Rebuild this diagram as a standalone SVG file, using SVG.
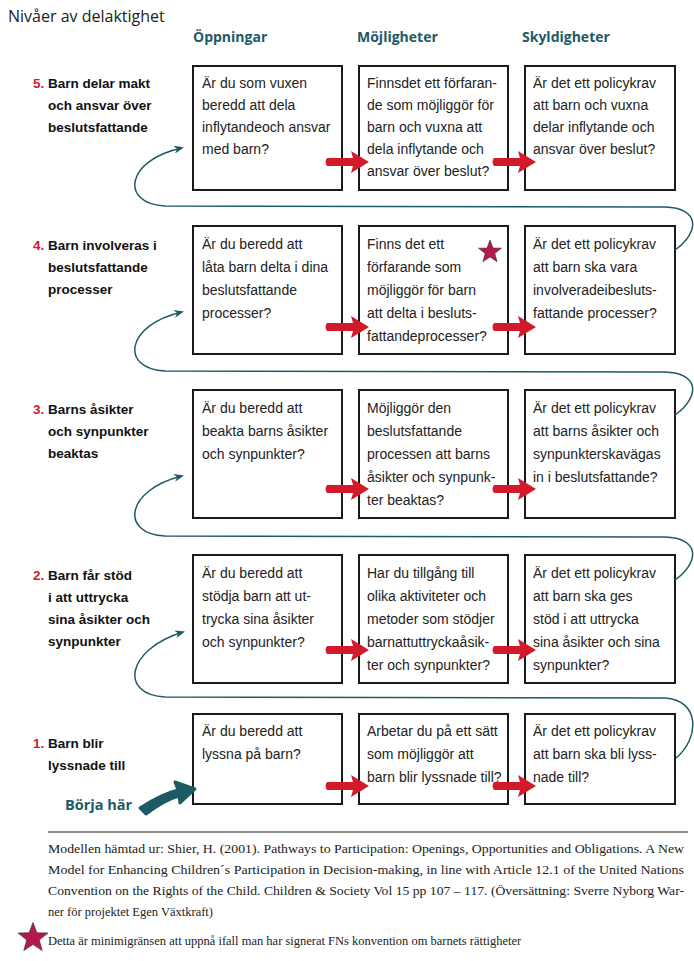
<svg xmlns="http://www.w3.org/2000/svg" width="694" height="961" viewBox="0 0 694 961">
<style>
.b{fill:#fff;stroke:#1a1a1a;stroke-width:2}
.t{font-family:"Liberation Sans Narrow","Liberation Sans",sans-serif;font-size:14px;fill:#222}
.h{font-family:"Open Sans","Liberation Sans",sans-serif;font-size:14px;font-weight:bold;fill:#1d5a66}
.l{font-family:"Liberation Sans",sans-serif;font-size:13.5px;font-weight:bold;fill:#111}
.n{fill:#d21a2a}
.f{font-family:"Liberation Serif",serif;font-size:12.5px;fill:#222}
.c{fill:none;stroke:#1d5a66;stroke-width:1.5}
.r{fill:#d21a2a}
</style>
<defs>
<marker id="ah" markerWidth="10" markerHeight="8" refX="8" refY="4" orient="auto" markerUnits="userSpaceOnUse"><path d="M0,0 L10,4 L0,8 L3,4 Z" fill="#1d5a66"/></marker>
<path id="ra" d="M2,-4 L28,-4 L26,-11 L44,0 L26,11 L28,4 L2,4 Q-1,0 2,-4 Z"/>
<path id="star" d="M0,-12 L3,-4 L11.5,-3.8 L4.8,1.5 L7.1,9.7 L0,5 L-7.1,9.7 L-4.8,1.5 L-11.5,-3.8 L-3,-4 Z"/>
</defs>
<text x="8" y="22" style="font-family:'Open Sans','Liberation Sans',sans-serif;font-size:16px;fill:#222">Nivåer av delaktighet</text>
<text x="193" y="42" class="h">Öppningar</text>
<text x="357" y="42" class="h">Möjligheter</text>
<text x="522" y="42" class="h">Skyldigheter</text>

<g id="labels">
<text class="l" x="33" y="88"><tspan class="n">5.</tspan> Barn delar makt</text>
<text class="l" x="48" y="110">och ansvar över</text>
<text class="l" x="48" y="132">beslutsfattande</text>
<text class="l" x="33" y="250"><tspan class="n">4.</tspan> Barn involveras i</text>
<text class="l" x="48" y="272">beslutsfattande</text>
<text class="l" x="48" y="294">processer</text>
<text class="l" x="33" y="414"><tspan class="n">3.</tspan> Barns åsikter</text>
<text class="l" x="48" y="436">och synpunkter</text>
<text class="l" x="48" y="458">beaktas</text>
<text class="l" x="33" y="580"><tspan class="n">2.</tspan> Barn får stöd</text>
<text class="l" x="48" y="602">i att uttrycka</text>
<text class="l" x="48" y="624">sina åsikter och</text>
<text class="l" x="48" y="646">synpunkter</text>
<text class="l" x="33" y="748"><tspan class="n">1.</tspan> Barn blir</text>
<text class="l" x="48" y="770">lyssnade till</text>
</g>

<g id="row5">
<rect class="b" x="193" y="66" width="149" height="124"/>
<text class="t" x="202" y="88"><tspan x="202">Är du som vuxen</tspan><tspan x="202" dy="22">beredd att dela</tspan><tspan x="202" dy="22">inflytandeoch ansvar</tspan><tspan x="202" dy="22">med barn?</tspan></text>
<rect class="b" x="359" y="66" width="149" height="124"/>
<text class="t" x="367" y="88"><tspan x="367">Finnsdet ett förfaran-</tspan><tspan x="367" dy="22">de som möjliggör för</tspan><tspan x="367" dy="22">barn och vuxna att</tspan><tspan x="367" dy="22">dela inflytande och</tspan><tspan x="367" dy="22">ansvar över beslut?</tspan></text>
<rect class="b" x="525" y="66" width="150" height="124"/>
<text class="t" x="533" y="88"><tspan x="533">Är det ett policykrav</tspan><tspan x="533" dy="22">att barn och vuxna</tspan><tspan x="533" dy="22">delar inflytande och</tspan><tspan x="533" dy="22">ansvar över beslut?</tspan></text>
</g>
<g id="row4">
<rect class="b" x="193" y="226" width="149" height="128"/>
<text class="t" x="202" y="249"><tspan x="202">Är du beredd att</tspan><tspan x="202" dy="23">låta barn delta i dina</tspan><tspan x="202" dy="23">beslutsfattande</tspan><tspan x="202" dy="23">processer?</tspan></text>
<rect class="b" x="359" y="226" width="149" height="128"/>
<text class="t" x="367" y="249"><tspan x="367">Finns det ett</tspan><tspan x="367" dy="23">förfarande som</tspan><tspan x="367" dy="23">möjliggör för barn</tspan><tspan x="367" dy="23">att delta i besluts-</tspan><tspan x="367" dy="23">fattandeprocesser?</tspan></text>
<rect class="b" x="525" y="226" width="150" height="128"/>
<text class="t" x="533" y="249"><tspan x="533">Är det ett policykrav</tspan><tspan x="533" dy="23">att barn ska vara</tspan><tspan x="533" dy="23">involveradeibesluts-</tspan><tspan x="533" dy="23">fattande processer?</tspan></text>
<use href="#star" x="490" y="252" fill="#b5184a" stroke="#333" stroke-width="0.6"/>
</g>
<g id="row3">
<rect class="b" x="193" y="390" width="149" height="128"/>
<text class="t" x="202" y="413"><tspan x="202">Är du beredd att</tspan><tspan x="202" dy="23">beakta barns åsikter</tspan><tspan x="202" dy="23">och synpunkter?</tspan></text>
<rect class="b" x="359" y="390" width="149" height="128"/>
<text class="t" x="367" y="413"><tspan x="367">Möjliggör den</tspan><tspan x="367" dy="23">beslutsfattande</tspan><tspan x="367" dy="23">processen att barns</tspan><tspan x="367" dy="23">åsikter och synpunk-</tspan><tspan x="367" dy="23">ter beaktas?</tspan></text>
<rect class="b" x="525" y="390" width="150" height="128"/>
<text class="t" x="533" y="413"><tspan x="533">Är det ett policykrav</tspan><tspan x="533" dy="23">att barns åsikter och</tspan><tspan x="533" dy="23">synpunkterskavägas</tspan><tspan x="533" dy="23">in i beslutsfattande?</tspan></text>
</g>
<g id="row2">
<rect class="b" x="193" y="555" width="149" height="128"/>
<text class="t" x="202" y="578"><tspan x="202">Är du beredd att</tspan><tspan x="202" dy="23">stödja barn att ut-</tspan><tspan x="202" dy="23">trycka sina åsikter</tspan><tspan x="202" dy="23">och synpunkter?</tspan></text>
<rect class="b" x="359" y="555" width="149" height="128"/>
<text class="t" x="367" y="578"><tspan x="367">Har du tillgång till</tspan><tspan x="367" dy="23">olika aktiviteter och</tspan><tspan x="367" dy="23">metoder som stödjer</tspan><tspan x="367" dy="23">barnattuttryckaåsik-</tspan><tspan x="367" dy="23">ter och synpunkter?</tspan></text>
<rect class="b" x="525" y="555" width="150" height="128"/>
<text class="t" x="533" y="578"><tspan x="533">Är det ett policykrav</tspan><tspan x="533" dy="23">att barn ska ges</tspan><tspan x="533" dy="23">stöd i att uttrycka</tspan><tspan x="533" dy="23">sina åsikter och sina</tspan><tspan x="533" dy="23">synpunkter?</tspan></text>
</g>
<g id="row1">
<rect class="b" x="193" y="714" width="149" height="90"/>
<text class="t" x="202" y="736"><tspan x="202">Är du beredd att</tspan><tspan x="202" dy="23">lyssna på barn?</tspan></text>
<rect class="b" x="359" y="714" width="149" height="90"/>
<text class="t" x="367" y="736"><tspan x="367">Arbetar du på ett sätt</tspan><tspan x="367" dy="23">som möjliggör att</tspan><tspan x="367" dy="23">barn blir lyssnade till?</tspan></text>
<rect class="b" x="525" y="714" width="150" height="90"/>
<text class="t" x="533" y="736"><tspan x="533">Är det ett policykrav</tspan><tspan x="533" dy="23">att barn ska bli lyss-</tspan><tspan x="533" dy="23">nade till?</tspan></text>
</g>

<g id="connectors">
<path class="c" marker-end="url(#ah)" d="M675,250 C700,232 700,208 665,207 L165,206 C120,204 125,160 182,148"/>
<path class="c" marker-end="url(#ah)" d="M675,415 C700,397 700,373 665,372 L165,371 C120,369 125,325 182,312"/>
<path class="c" marker-end="url(#ah)" d="M675,580 C700,562 700,538 665,537 L165,536 C120,534 125,490 182,476"/>
<path class="c" marker-end="url(#ah)" d="M676,758 C700,738 700,700 665,698 L165,697 C120,695 125,650 183,632"/>
<g class="r">
<use href="#ra" x="325" y="162"/><use href="#ra" x="492" y="162"/>
<use href="#ra" x="325" y="327"/><use href="#ra" x="492" y="327"/>
<use href="#ra" x="325" y="489"/><use href="#ra" x="492" y="489"/>
<use href="#ra" x="325" y="650"/><use href="#ra" x="492" y="650"/>
<use href="#ra" x="325" y="786"/><use href="#ra" x="492" y="786"/>
</g>
<path d="M140,808 C160,795 170,792 178,790 L175,782 L195,789 L180,803 L179,796 C168,799 158,805 146,814 Z" fill="#1d5a66" stroke="#1d5a66" stroke-width="3" stroke-linejoin="round"/>
</g>
<text x="65" y="810" class="h" style="font-size:14.5px">Börja här</text>

<line x1="48" y1="832" x2="688" y2="832" stroke="#222" stroke-width="1"/>
<g class="f">
<text x="48" y="853" textLength="636" lengthAdjust="spacingAndGlyphs">Modellen hämtad ur: Shier, H. (2001). Pathways to Participation: Openings, Opportunities and Obligations. A New</text>
<text x="48" y="874" textLength="636" lengthAdjust="spacingAndGlyphs">Model for Enhancing Children´s Participation in Decision-making, in line with Article 12.1 of the United Nations</text>
<text x="48" y="895" textLength="636" lengthAdjust="spacingAndGlyphs">Convention on the Rights of the Child. Children &amp; Society Vol 15 pp 107 – 117. (Översättning: Sverre Nyborg War-</text>
<text x="48" y="916">ner för projektet Egen Växtkraft)</text>
<text x="48" y="945">Detta är minimigränsen att uppnå ifall man har signerat FNs konvention om barnets rättigheter</text>
</g>
<use href="#star" transform="translate(33 938) scale(1.3)" fill="#b5184a" stroke="#333" stroke-width="0.5"/>
</svg>
